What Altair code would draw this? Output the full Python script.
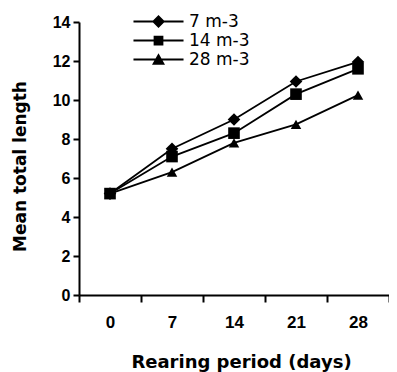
import altair as alt
import pandas as pd

days = [0, 7, 14, 21, 28]
series_names = ["7 m-3", "14 m-3", "28 m-3"]
vals_7 = [5.2, 7.5, 9.0, 10.95, 11.95]
vals_14 = [5.2, 7.1, 8.3, 10.3, 11.6]
vals_28 = [5.2, 6.3, 7.8, 8.75, 10.25]
y_ticks = [0, 2, 4, 6, 8, 10, 12, 14]

rows = []
for name, vals in zip(series_names, [vals_7, vals_14, vals_28]):
    for d, v in zip(days, vals):
        rows.append({"day": d, "length": v, "series": name, "leg": name})
df = pd.DataFrame(rows)

TITLE_FONT = "DejaVu Sans"
LABEL_FONT = "Liberation Sans"

x_enc = alt.X(
    "day:O",
    sort=days,
    scale=alt.Scale(type="band", paddingInner=0, paddingOuter=0),
    axis=alt.Axis(
        title="Rearing period (days)",
        labelAngle=0,
        tickBand="extent",
        tickSize=7,
        tickWidth=2,
        tickColor="black",
        domainColor="black",
        domainWidth=2,
        labelFont=LABEL_FONT,
        labelFontSize=17,
        labelFontWeight="bold",
        labelColor="black",
        labelPadding=12,
        titleFont=TITLE_FONT,
        titleFontSize=18,
        titleFontWeight="bold",
        titleColor="black",
        titleX=162,
        titleY=72,
        titleBaseline="alphabetic",
        grid=False,
    ),
)
y_enc = alt.Y(
    "length:Q",
    scale=alt.Scale(domain=[0, 14], nice=False, zero=True),
    axis=alt.Axis(
        title="Mean total length",
        values=y_ticks,
        tickSize=6,
        tickWidth=2,
        tickColor="black",
        domainColor="black",
        domainWidth=2,
        labelFont=LABEL_FONT,
        labelFontSize=16,
        labelFontWeight="bold",
        labelColor="black",
        labelPadding=3,
        titleFont=TITLE_FONT,
        titleFontSize=17,
        titleFontWeight="bold",
        titleColor="black",
        titleX=-59,
        titleY=144,
        titleAngle=-90,
        titleAlign="center",
        titleBaseline="middle",
        grid=False,
    ),
)

lines = alt.Chart(df).mark_line(color="black", strokeWidth=1.8).encode(
    x=x_enc, y=y_enc, detail="series:N"
)

points = alt.Chart(df).mark_point(filled=True, color="black", opacity=1).encode(
    x=x_enc,
    y=y_enc,
    shape=alt.Shape(
        "series:N",
        scale=alt.Scale(domain=series_names, range=["diamond", "square", "triangle-up"]),
        legend=None,
    ),
    size=alt.Size(
        "series:N",
        scale=alt.Scale(domain=series_names, range=[160, 110, 140]),
        legend=None,
    ),
)

BAR = "M-3.85,-0.14H3.85V0.14H-3.85Z"
legend_paths = [
    BAR + "M-1,0L0,-1L1,0L0,1Z",
    BAR + "M-0.75,-0.75H0.75V0.75H-0.75Z",
    BAR + "M-1,0.8L0,-0.95L1,0.8Z",
]

legend_layer = (
    alt.Chart(df)
    .transform_filter("datum.day < -100")
    .mark_point(filled=True, color="black", size=169, opacity=1)
    .encode(
        x=x_enc,
        y=y_enc,
        shape=alt.Shape(
            "leg:N",
            scale=alt.Scale(domain=series_names, range=legend_paths),
            legend=alt.Legend(
                title=None,
                orient="none",
                legendX=71,
                legendY=-9,
                padding=0,
                symbolSize=169,
                symbolFillColor="black",
                symbolStrokeColor="black",
                symbolStrokeWidth=0,
                symbolOpacity=1,
                labelFont=TITLE_FONT,
                labelFontSize=17,
                labelColor="black",
                labelOffset=22,
                rowPadding=1,
            ),
        ),
    )
)

chart = (
    alt.layer(lines, points, legend_layer)
    .resolve_scale(shape="independent")
    .properties(
        width=310,
        height=273,
        autosize=alt.AutoSizeParams(type="none"),
        padding={"left": 71, "top": 14, "right": 0, "bottom": 78},
    )
    .configure_view(stroke=None)
)

chart.save("out.html", embed_options={"renderer": "svg", "actions": False})
